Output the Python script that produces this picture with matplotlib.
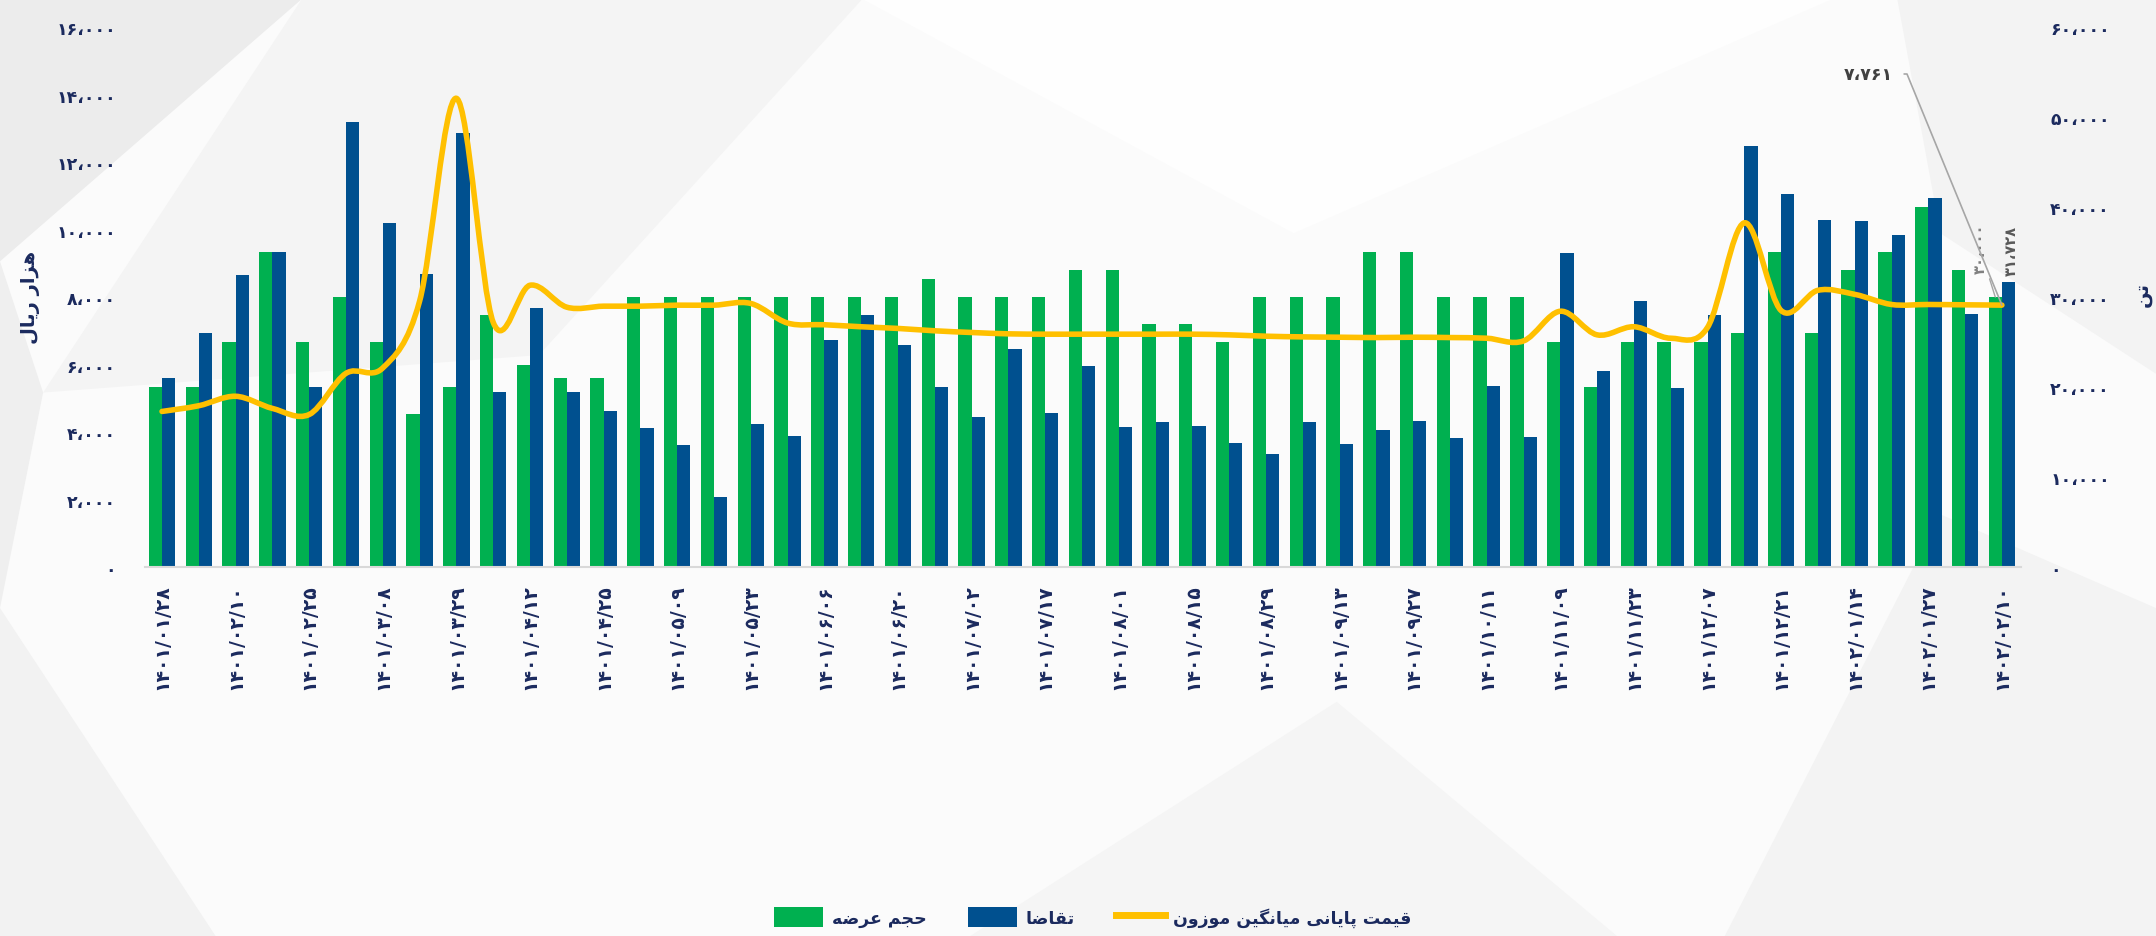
import numpy as np
import matplotlib
matplotlib.use("Agg")
import matplotlib.pyplot as plt
from matplotlib.path import Path
from matplotlib.patches import PathPatch, Patch, Polygon
from matplotlib.lines import Line2D

# tick dates (every second week)
dates = ["1401/01/28", "1401/02/10", "1401/02/25", "1401/03/08", "1401/03/29",
         "1401/04/12", "1401/04/25", "1401/05/09", "1401/05/23", "1401/06/06",
         "1401/06/20", "1401/07/02", "1401/07/17", "1401/08/01", "1401/08/15",
         "1401/08/29", "1401/09/13", "1401/09/27", "1401/10/11", "1401/11/09",
         "1401/11/23", "1401/12/07", "1401/12/21", "1402/01/14", "1402/01/27",
         "1402/02/10"]

# supply volume (tonnes)
supply = [20000, 20000, 25000, 35000, 25000, 30000, 25000, 17000, 20000, 28000,
          22500, 21000, 21000, 30000, 30000, 30000, 30000, 30000, 30000, 30000,
          30000, 32000, 30000, 30000, 30000, 33000, 33000, 27000, 27000, 25000,
          30000, 30000, 30000, 35000, 35000, 30000, 30000, 30000, 25000, 20000,
          25000, 25000, 25000, 26000, 35000, 26000, 33000, 35000, 40000, 33000,
          30000]

# demand (tonnes)
demand = [21000, 26000, 32500, 35000, 20000, 49500, 38200, 32600, 48200, 19500,
          28800, 19500, 17300, 15400, 13550, 7800, 15900, 14550, 25200, 28000,
          24700, 19950, 16650, 24250, 17100, 22300, 15550, 16100, 15650, 13750,
          12600, 16150, 13650, 15200, 16200, 14300, 20150, 14450, 34950, 21750,
          29550, 19900, 28050, 46750, 41450, 38550, 38500, 36950, 41050, 28150,
          31728]

# weighted average closing price (thousand rial)
price = [4610, 4780, 5060, 4700, 4520, 5740, 5900, 7880, 13890, 7250,
         8350, 7700, 7730, 7730, 7760, 7760, 7810, 7230, 7180, 7120,
         7070, 7000, 6950, 6910, 6900, 6900, 6900, 6900, 6900, 6880,
         6840, 6820, 6810, 6800, 6810, 6800, 6780, 6700, 7580, 6880,
         7120, 6780, 7100, 10200, 7600, 8200, 8080, 7780, 7780, 7770,
         7761]

GREEN = "#00B050"
BLUE = "#00508F"
YELLOW = "#FFC000"
NAVY = "#1B2A5E"

FA_DIGITS = str.maketrans("0123456789", "۰۱۲۳۴۵۶۷۸۹")


def fa_num(v):
    return f"{v:,.0f}".replace(",", "،").translate(FA_DIGITS)


# minimal Persian shaping: (isolated, final, initial, medial)
FORMS = {
    "ا": ("\uFE8D", "\uFE8E", None, None),
    "ت": ("\uFE95", "\uFE96", "\uFE97", "\uFE98"),
    "ج": ("\uFE9D", "\uFE9E", "\uFE9F", "\uFEA0"),
    "ح": ("\uFEA1", "\uFEA2", "\uFEA3", "\uFEA4"),
    "ر": ("\uFEAD", "\uFEAE", None, None),
    "ز": ("\uFEAF", "\uFEB0", None, None),
    "ض": ("\uFEBD", "\uFEBE", "\uFEBF", "\uFEC0"),
    "ع": ("\uFEC9", "\uFECA", "\uFECB", "\uFECC"),
    "ق": ("\uFED5", "\uFED6", "\uFED7", "\uFED8"),
    "ل": ("\uFEDD", "\uFEDE", "\uFEDF", "\uFEE0"),
    "م": ("\uFEE1", "\uFEE2", "\uFEE3", "\uFEE4"),
    "ن": ("\uFEE5", "\uFEE6", "\uFEE7", "\uFEE8"),
    "ه": ("\uFEE9", "\uFEEA", "\uFEEB", "\uFEEC"),
    "و": ("\uFEED", "\uFEEE", None, None),
    "ی": ("\uFBFC", "\uFBFD", "\uFBFE", "\uFBFF"),
    "پ": ("\uFB56", "\uFB57", "\uFB58", "\uFB59"),
    "گ": ("\uFB92", "\uFB93", "\uFB94", "\uFB95"),
}


def fa(text):
    out = []
    for i, c in enumerate(text):
        if c not in FORMS:
            out.append(c)
            continue
        prev = text[i - 1] if i > 0 else " "
        nxt = text[i + 1] if i + 1 < len(text) else " "
        jp = prev in FORMS and FORMS[prev][2] is not None
        jn = FORMS[c][2] is not None and nxt in FORMS
        iso, fin, ini, med = FORMS[c]
        out.append(med if jp and jn else fin if jp else ini if jn else iso)
    return "".join(reversed(out))


def smooth_path(xs, ys):
    pts = np.column_stack([xs, ys]).astype(float)
    ext = np.vstack([pts[0], pts, pts[-1]])
    verts, codes = [pts[0]], [Path.MOVETO]
    for i in range(len(pts) - 1):
        p0, p1, p2, p3 = ext[i], ext[i + 1], ext[i + 2], ext[i + 3]
        verts += [p1 + (p2 - p0) / 6, p2 - (p3 - p1) / 6, p2]
        codes += [Path.CURVE4] * 3
    return Path(verts, codes)


plt.rcParams["font.family"] = ["DejaVu Sans"]
plt.rcParams["font.weight"] = "bold"

fig = plt.figure(figsize=(21.56, 9.37), dpi=100)
fig.patch.set_facecolor("#fbfbfb")

# faint low-poly background
for pts, col in [
    ([(0, 1), (0.14, 1), (0.0, 0.72)], "#ececec"),
    ([(0.14, 1), (0.40, 1), (0.25, 0.62), (0.02, 0.58)], "#f4f4f4"),
    ([(0, 0.72), (0.02, 0.58), (0.0, 0.35)], "#efefef"),
    ([(0, 0.35), (0.10, 0.0), (0.0, 0.0)], "#f2f2f2"),
    ([(0.40, 1), (0.85, 1), (0.6, 0.75)], "#fefefe"),
    ([(0.45, 0.0), (0.62, 0.25), (0.75, 0.0)], "#f5f5f5"),
    ([(0.88, 1), (1, 1), (1, 0.6), (0.9, 0.75)], "#f3f3f3"),
    ([(0.8, 0.0), (0.9, 0.45), (1, 0.35), (1, 0.0)], "#f3f3f3"),
]:
    fig.patches.append(Polygon(pts, closed=True, transform=fig.transFigure,
                               facecolor=col, edgecolor="none", zorder=-10))

axp = fig.add_axes([0.0673, 0.3938, 0.8701, 0.5762])
ax = axp.twinx()
axp.set_zorder(ax.get_zorder() + 1)
axp.patch.set_visible(False)
ax.patch.set_visible(False)

# bars on the right (tonnes) axis
x = np.arange(len(supply))
w = 0.36
ax.bar(x - w / 2, supply, width=w, color=GREEN, zorder=2)
ax.bar(x + w / 2, demand, width=w, color=BLUE, zorder=2)
ax.set_ylim(0, 60000)
ax.set_yticks(np.arange(0, 60001, 10000))
ax.set_yticklabels([fa_num(v) for v in range(0, 60001, 10000)])
ax.tick_params(axis="y", length=0, pad=21, labelsize=12.5, labelcolor=NAVY)
for s in ax.spines.values():
    s.set_visible(False)

# bar data labels on the last week
ax.annotate(fa_num(supply[-1]), xy=(x[-1] - w / 2, supply[-1]), xytext=(-11, 17),
            textcoords="offset points", rotation=90, ha="center", va="bottom",
            fontsize=10.5, color="#808080",
            arrowprops=dict(arrowstyle="-", color="#a6a6a6", lw=1, shrinkA=2, shrinkB=0))
ax.annotate(fa_num(demand[-1]), xy=(x[-1] + w / 2, demand[-1]), xytext=(2, 5),
            textcoords="offset points", rotation=90, ha="center", va="bottom",
            fontsize=10.5, color="#595959")

# price line on the left (thousand rial) axis
axp.set_ylim(0, 16000)
axp.set_xlim(-0.46, 50.52)
axp.set_yticks(np.arange(0, 16001, 2000))
axp.set_yticklabels([fa_num(v) for v in range(0, 16001, 2000)])
axp.tick_params(axis="y", length=0, pad=21, labelsize=12.5, labelcolor=NAVY)
axp.set_xticks(x[::2])
axp.set_xticklabels([d.translate(FA_DIGITS) for d in dates], rotation=90)
axp.tick_params(axis="x", length=0, pad=12, labelsize=13.5, labelcolor=NAVY)
for s in ["top", "left", "right"]:
    axp.spines[s].set_visible(False)
axp.spines["bottom"].set_color("#d9d9d9")
axp.spines["bottom"].set_linewidth(1.5)
axp.add_patch(PathPatch(smooth_path(x, price), fill=False, edgecolor=YELLOW, lw=4,
                        capstyle="round", joinstyle="round", zorder=3))
axp.annotate(fa_num(price[-1]), xy=(x[-1], price[-1]), xytext=(1893, 862),
             textcoords="figure pixels", ha="right", va="center",
             fontsize=12.5, color="#404040",
             arrowprops=dict(arrowstyle="-", color="#a6a6a6", lw=1.2, shrinkA=6, shrinkB=0,
                             relpos=(1, 0.5),
                             connectionstyle="arc,angleA=0,armA=14,angleB=90,armB=0,rad=0"))

fig.text(31 / 2156, 1 - 297 / 937, fa("هزار ریال"), rotation=90, ha="center",
         va="center", fontsize=14, color=NAVY)
fig.text(2142 / 2156, 1 - 295 / 937, fa("تن"), rotation=90, ha="center",
         va="center", fontsize=14, color=NAVY)

handles = [Patch(facecolor=GREEN), Patch(facecolor=BLUE),
           Line2D([], [], color=YELLOW, lw=5)]
labels = [fa("حجم عرضه"), fa("تقاضا"), fa("قیمت پایانی میانگین موزون")]
leg = fig.legend(handles, labels, loc="center", bbox_to_anchor=(0.507, 0.02), ncol=3,
                 frameon=False, fontsize=12.5, handlelength=2.8, handleheight=1.4,
                 columnspacing=2.4, handletextpad=0.5)
for t in leg.get_texts():
    t.set_color(NAVY)

fig.savefig("out.png", dpi=100, facecolor=fig.get_facecolor())
